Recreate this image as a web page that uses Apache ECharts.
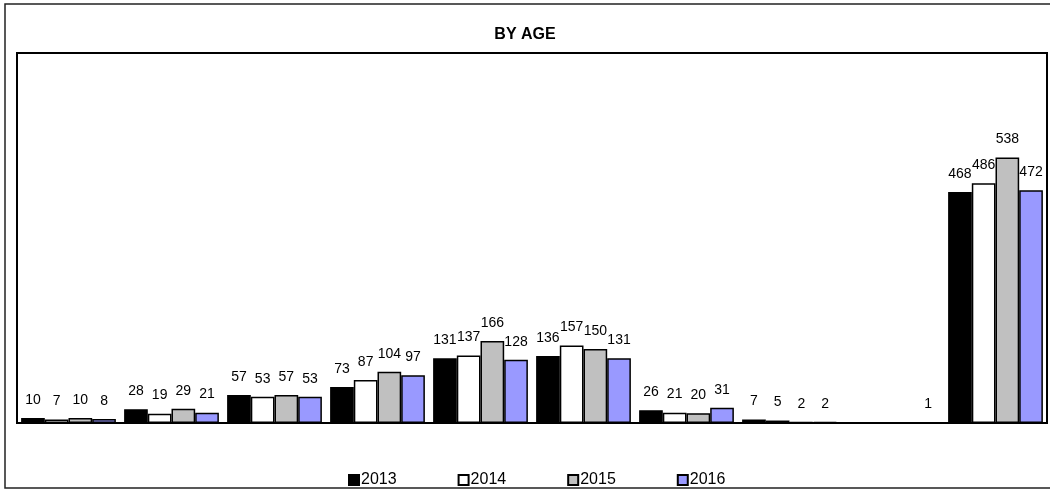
<!DOCTYPE html>
<html>
<head>
<meta charset="utf-8">
<script src="https://cdn.jsdelivr.net/npm/echarts@6/dist/echarts.min.js"></script>
<style>
    html, body { margin: 0; padding: 0; background: #fff; }
    #myEcharts { width: 1050px; height: 491px; }
</style>
</head>
<body>
<div id="myEcharts"></div>
<script>
    // 年龄段分组（图中无标签）
    var categories = ['1', '2', '3', '4', '5', '6', '7', '8', '9', '10'];
    var years = ['2013', '2014', '2015', '2016'];
    var data2013 = [10, 28, 57, 73, 131, 136, 26, 7, null, 468];
    var data2014 = [7, 19, 53, 87, 137, 157, 21, 5, null, 486];
    var data2015 = [10, 29, 57, 104, 166, 150, 20, 2, null, 538];
    var data2016 = [8, 21, 53, 97, 128, 131, 31, 2, 1, 472];
    var colors = ['#000000', '#ffffff', '#c0c0c0', '#9999ff'];

    var allData = [data2013, data2014, data2015, data2016];

    var series = years.map(function (name, i) {
        return {
            name: name,
            type: 'bar',
            data: allData[i],
            barGap: '0%',
            barCategoryGap: '8%',
            itemStyle: {
                color: colors[i],
                borderColor: '#000',
                borderWidth: 1.5
            },
            label: {
                show: true,
                position: 'top',
                distance: 11,
                color: '#000',
                fontSize: 14,
                fontFamily: 'Liberation Sans'
            },
            animation: false
        };
    });

    var chart = echarts.init(document.getElementById('myEcharts'));
    chart.setOption({
        animation: false,
        title: {
            left: 'center',
            top: 22,
            text: 'BY AGE',
            textStyle: {
                fontFamily: 'Liberation Sans',
                fontSize: 16,
                fontWeight: 'bold',
                color: '#000'
            }
        },
        graphic: [{
            type: 'rect',
            shape: { x: 5, y: 4, width: 1100, height: 484 },
            style: { fill: 'none', stroke: '#222', lineWidth: 1.5 },
            silent: true
        }],
        legend: {
            left: 343,
            top: 467,
            itemWidth: 10,
            itemHeight: 10,
            itemGap: 61,
            icon: 'rect',
            data: years,
            textStyle: {
                fontFamily: 'Liberation Sans',
                fontSize: 16,
                color: '#000',
                padding: [0, 0, 0, -3]
            }
        },
        grid: {
            left: 17,
            top: 53,
            right: 3,
            bottom: 68,
            show: true,
            borderColor: '#000',
            borderWidth: 2
        },
        xAxis: {
            type: 'category',
            data: categories,
            axisLine: { show: true, lineStyle: { color: '#000', width: 2 } },
            axisTick: { show: false },
            axisLabel: { show: false }
        },
        yAxis: {
            type: 'value',
            min: 0,
            max: 750,
            show: false,
            splitLine: { show: false }
        },
        series: series
    });
</script>
</body>
</html>
